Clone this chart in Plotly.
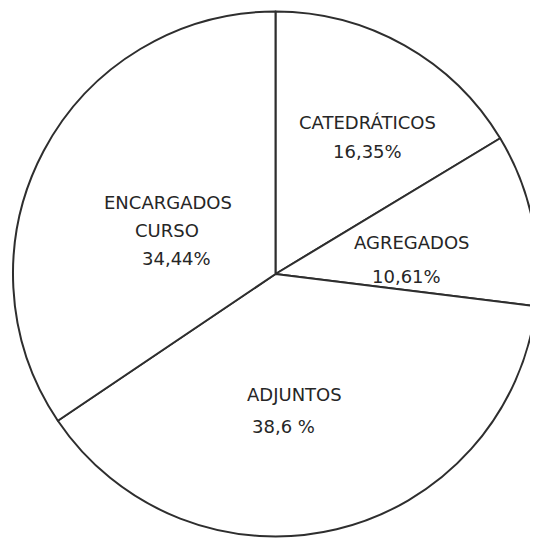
import plotly.graph_objects as go

# Data
categories = ["CATEDRÁTICOS", "AGREGADOS", "ADJUNTOS", "ENCARGADOS CURSO"]
values = [16.35, 10.61, 38.6, 34.44]
value_labels = ["16,35%", "10,61%", "38,6 %", "34,44%"]
name_lines = [["CATEDRÁTICOS"], ["AGREGADOS"], ["ADJUNTOS"], ["ENCARGADOS", "CURSO"]]

# page body has an 8px margin; figure sized to fill the rest of the window
OFF = 8
W, H = 538 - OFF, 540 - OFF
line_col = "#2e2e2e"
text_col = "#262626"

fig = go.Figure(go.Pie(
    labels=categories,
    values=values,
    sort=False,
    direction="clockwise",
    rotation=0,
    textinfo="none",
    hoverinfo="label+percent",
    marker=dict(colors=["white"] * 4, line=dict(color=line_col, width=2)),
    domain=dict(x=[(13 - OFF) / W, 1.0], y=[(540 - 538) / H, 1 - (10 - OFF) / H]),
    showlegend=False,
))

# label positions in reference-window pixels (centre of each text line)
label_pos = [
    [(367, 122), (367, 151)],
    [(412, 243), (406, 276)],
    [(294, 394), (283, 426)],
    [(168, 202), (167, 230), (176, 259)],
]

annotations = []
for i, lines in enumerate(name_lines):
    texts = lines + [value_labels[i]]
    for t, (px, py) in zip(texts, label_pos[i]):
        annotations.append(dict(
            x=(px - OFF) / W, y=1 - (py - OFF) / H, xref="paper", yref="paper",
            text=t, showarrow=False, xanchor="center", yanchor="middle",
            font=dict(family="DejaVu Sans", size=18, color=text_col),
        ))

fig.update_layout(
    width=W, height=H,
    margin=dict(l=0, r=0, t=0, b=0),
    paper_bgcolor="white", plot_bgcolor="white",
    annotations=annotations,
)

fig.write_html("out.html")
